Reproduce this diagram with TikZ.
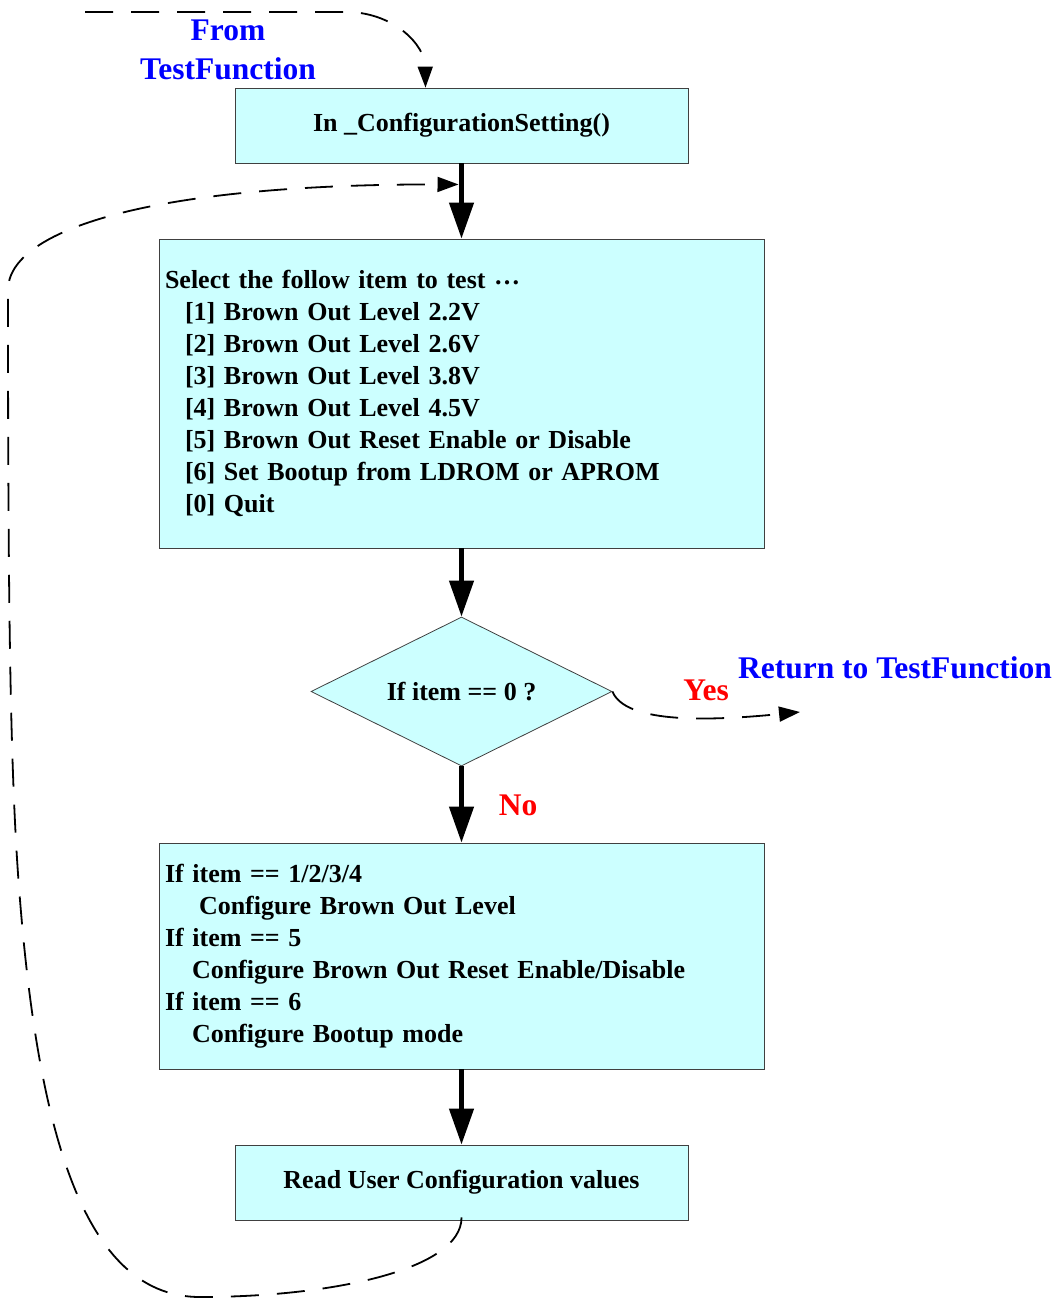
\documentclass[tikz,border=0pt]{standalone}
\usepackage{fontspec}
\setmainfont{Liberation Serif}
\usepackage{xcolor}
\usepackage{tikz}
\usetikzlibrary{arrows.meta,shapes.geometric,calc}

\definecolor{boxfill}{HTML}{CCFFFF}
\definecolor{labblue}{HTML}{0000FF}
\definecolor{labred}{HTML}{FF0000}

\begin{document}
\begin{tikzpicture}[
  x=1pt, y=-1pt,
  procbox/.style={draw=black!75, line width=0.8pt, fill=boxfill, inner sep=0pt, align=center,
    font=\fontsize{26}{32}\selectfont\bfseries},
  listbox/.style={procbox, align=left, inner xsep=6pt, inner ysep=0pt, text width=593pt},
  decision/.style={draw=black!75, line width=0.8pt, fill=boxfill, diamond, aspect=2.02, inner sep=0pt,
    minimum width=301pt, minimum height=149pt, font=\fontsize{26}{32}\selectfont\bfseries},
  flow/.style={-{Triangle[length=36pt,width=24pt]}, line width=4.5pt},
  loop/.style={-{Triangle[length=21pt,width=15pt]}, line width=1.8pt, dash pattern=on 28pt off 18pt},
  note/.style={font=\fontsize{31.5}{39}\selectfont\bfseries, align=center},
]
\useasboundingbox (0,0) rectangle (1062,1298);

% boxes
\node[procbox, minimum width=453pt, minimum height=75pt] (cfg) at (461.5,125.5) {In \_ConfigurationSetting()};
\node[listbox, minimum height=309pt] (menu) at (461.5,393.5) {Select the follow item to test \raisebox{.3ex}{…}\\
  \hspace*{20pt}[1] Brown Out Level 2.2V\\
  \hspace*{20pt}[2] Brown Out Level 2.6V\\
  \hspace*{20pt}[3] Brown Out Level 3.8V\\
  \hspace*{20pt}[4] Brown Out Level 4.5V\\
  \hspace*{20pt}[5] Brown Out Reset Enable or Disable\\
  \hspace*{20pt}[6] Set Bootup from LDROM or APROM\\
  \hspace*{20pt}[0] Quit};
\node[decision] (quit) at (461.5,691.5) {If item == 0 ?};
\node[listbox, minimum height=226pt] (act) at (461.5,956) {If item == 1/2/3/4\\
  \hspace*{34pt}Configure Brown Out Level\\
  If item == 5\\
  \hspace*{27pt}Configure Brown Out Reset Enable/Disable\\
  If item == 6\\
  \hspace*{27pt}Configure Bootup mode};
\node[procbox, minimum width=453pt, minimum height=75pt] (rd) at (461.5,1182.5) {Read User Configuration values};

% labels
\node[note, text=labblue] (fromlab) at (228,49.5) {From\\TestFunction};
\node[note, text=labblue] (retlab) at (895,668) {Return to TestFunction};
\node[note, text=labred] (yeslab) at (706,690) {Yes};
\node[note, text=labred] (nolab) at (518,805) {No};

% main flow
\draw[flow] (cfg.south) -- (menu.north);
\draw[flow] (menu.south) -- (quit.north);
\draw[flow] (quit.south) -- (act.north);
\draw[flow] (act.south) -- (rd.north);

% dashed connectors
\coordinate (fromtest) at (85,12);
\coordinate (yesend) at (800,712);
\coordinate (loopin) at ($(cfg.south)!0.28!(menu.north)+(-3,0)$);
\draw[loop] (fromtest) -- (350,12) .. controls (395,14) and (425,45) .. ([xshift=-36pt]cfg.north);
\draw[loop] (quit.east) .. controls (625,722) and (700,722) .. (yesend);
\draw[loop] ([yshift=3pt]rd.south) .. controls (462,1270) and (330,1297) .. (200,1297)
  .. controls (90,1297) and (40,1150) .. (20,900)
  .. controls (10,780) and (8,600) .. (8,290)
  .. controls (8,230) and (150,184) .. (loopin);
\end{tikzpicture}
\end{document}
